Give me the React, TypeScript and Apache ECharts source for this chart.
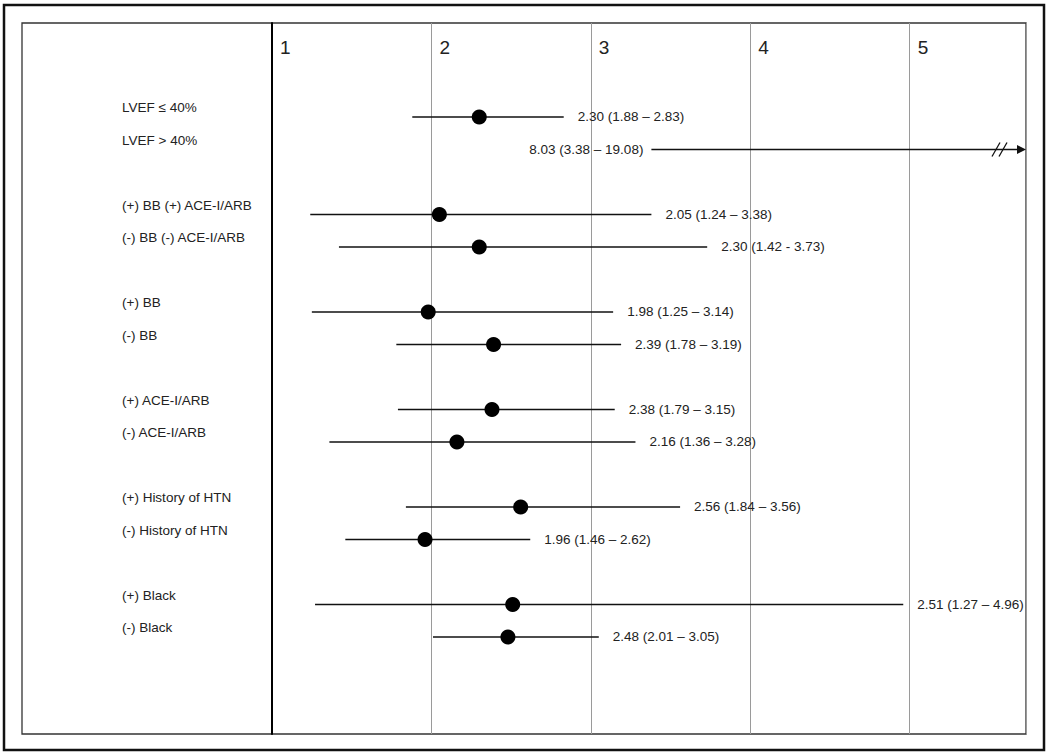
import React, { useEffect, useRef } from "react";
import * as echarts from "echarts";

// ---- data ----
const groupRows: string[][] = [
  ["LVEF ≤ 40%", "LVEF > 40%"],
  ["(+) BB (+) ACE-I/ARB", "(-) BB (-) ACE-I/ARB"],
  ["(+) BB", "(-) BB"],
  ["(+) ACE-I/ARB", "(-) ACE-I/ARB"],
  ["(+) History of HTN", "(-) History of HTN"],
  ["(+) Black", "(-) Black"],
];
const estimates = [2.3, 8.03, 2.05, 2.3, 1.98, 2.39, 2.38, 2.16, 2.56, 1.96, 2.51, 2.48];
const lowerCI = [1.88, 3.38, 1.24, 1.42, 1.25, 1.78, 1.79, 1.36, 1.84, 1.46, 1.27, 2.01];
const upperCI = [2.83, 19.08, 3.38, 3.73, 3.14, 3.19, 3.15, 3.28, 3.56, 2.62, 4.96, 3.05];
const valueLabels = [
  "2.30 (1.88 – 2.83)",
  "8.03 (3.38 – 19.08)",
  "2.05 (1.24 – 3.38)",
  "2.30 (1.42 - 3.73)",
  "1.98 (1.25 – 3.14)",
  "2.39 (1.78 – 3.19)",
  "2.38 (1.79 – 3.15)",
  "2.16 (1.36 – 3.28)",
  "2.56 (1.84 – 3.56)",
  "1.96 (1.46 – 2.62)",
  "2.51 (1.27 – 4.96)",
  "2.48 (2.01 – 3.05)",
];
const xTicks = [1, 2, 3, 4, 5];
const X_MIN = 1;
const X_MAX = 5.73;

const FONT = "Liberation Sans, Arial, sans-serif";
const FS = 13.5;

export default function App() {
  const ref = useRef<HTMLDivElement>(null);
  useEffect(() => {
    if (!ref.current) return;
    const chart = echarts.init(ref.current, undefined, { renderer: "svg" });
    const rowNames: string[] = [];
    const rowPos: number[] = [];
    groupRows.forEach((g, gi) =>
      g.forEach((name, ri) => {
        rowNames.push(name);
        rowPos.push(gi * 3 + ri);
      })
    );
    const data = rowNames.map((n, i) => [estimates[i], rowPos[i], lowerCI[i], upperCI[i], i]);

    const option: any = {
      animation: false,
      backgroundColor: "#fff",
      textStyle: { fontFamily: FONT },
      grid: { left: 272, right: 24, top: 23, bottom: 22 },
      xAxis: {
        type: "value",
        min: X_MIN,
        max: X_MAX,
        interval: 1,
        position: "top",
        axisLine: { show: false },
        axisTick: { show: false },
        axisLabel: {
          inside: true,
          margin: 15,
          align: "left",
          padding: [0, 0, 0, 8],
          verticalAlign: "top",
          fontSize: 19,
          color: "#222",
          fontFamily: FONT,
          showMaxLabel: false,
          formatter: (v: number) => (xTicks.includes(v) ? String(v) : ""),
        },
        splitLine: { show: true, lineStyle: { color: "#9a9a9a", width: 1 } },
      },
      yAxis: {
        type: "value",
        inverse: true,
        min: -2.892,
        max: 18.985,
        axisLine: { show: true, lineStyle: { color: "#000", width: 2 } },
        axisTick: { show: false },
        axisLabel: { show: false },
        splitLine: { show: false },
      },
      graphic: [
        {
          type: "rect",
          shape: { x: 4, y: 5, width: 1040, height: 745 },
          style: { fill: "none", stroke: "#111", lineWidth: 2.5 },
          silent: true,
        },
        {
          type: "rect",
          shape: { x: 22, y: 23, width: 1004, height: 711 },
          style: { fill: "none", stroke: "#333", lineWidth: 1.3 },
          silent: true,
        },
      ],
      series: [
        {
          type: "custom",
          clip: false,
          data,
          renderItem: (params: any, api: any) => {
            const est = api.value(0);
            const pos = api.value(1);
            const lo = api.value(2);
            const hi = api.value(3);
            const idx = api.value(4);
            const pLo = api.coord([lo, pos]);
            const over = hi > X_MAX;
            const pHi = api.coord([Math.min(hi, X_MAX), pos]);
            const pEst = api.coord([est, pos]);
            const pAxis = api.coord([X_MIN, pos]);
            const y = pLo[1];
            const children: any[] = [];
            children.push({
              type: "text",
              style: {
                text: rowNames[idx],
                x: pAxis[0] - 150,
                y: y - 9,
                align: "left",
                verticalAlign: "middle",
                fontSize: FS,
                fontFamily: FONT,
                fill: "#222",
              },
            });
            const lineEnd = over ? pHi[0] - 6 : pHi[0];
            children.push({
              type: "line",
              shape: { x1: pLo[0], y1: y, x2: lineEnd, y2: y },
              style: { stroke: "#111", lineWidth: 1.4 },
            });
            if (over) {
              children.push({
                type: "polygon",
                shape: { points: [[pHi[0], y], [pHi[0] - 9, y - 4.5], [pHi[0] - 9, y + 4.5]] },
                style: { fill: "#111" },
              });
              [-30, -23].forEach((dx) =>
                children.push({
                  type: "line",
                  shape: { x1: pHi[0] + dx - 4, y1: y + 7, x2: pHi[0] + dx + 4, y2: y - 7 },
                  style: { stroke: "#111", lineWidth: 1.3 },
                })
              );
              children.push({
                type: "text",
                style: {
                  text: valueLabels[idx],
                  x: pLo[0] - 8,
                  y,
                  align: "right",
                  verticalAlign: "middle",
                  fontSize: FS,
                  fontFamily: FONT,
                  fill: "#222",
                },
              });
            } else {
              children.push({
                type: "circle",
                shape: { cx: pEst[0], cy: pEst[1], r: 7.5 },
                style: { fill: "#000" },
              });
              children.push({
                type: "text",
                style: {
                  text: valueLabels[idx],
                  x: pHi[0] + 14,
                  y,
                  align: "left",
                  verticalAlign: "middle",
                  fontSize: FS,
                  fontFamily: FONT,
                  fill: "#222",
                },
              });
            }
            return { type: "group", children };
          },
        },
      ],
    };
    chart.setOption(option);
    return () => chart.dispose();
  }, []);
  return (
    <div
      ref={ref}
      style={{ position: "fixed", left: 0, top: 0, width: 1050, height: 756, background: "#fff" }}
    />
  );
}
